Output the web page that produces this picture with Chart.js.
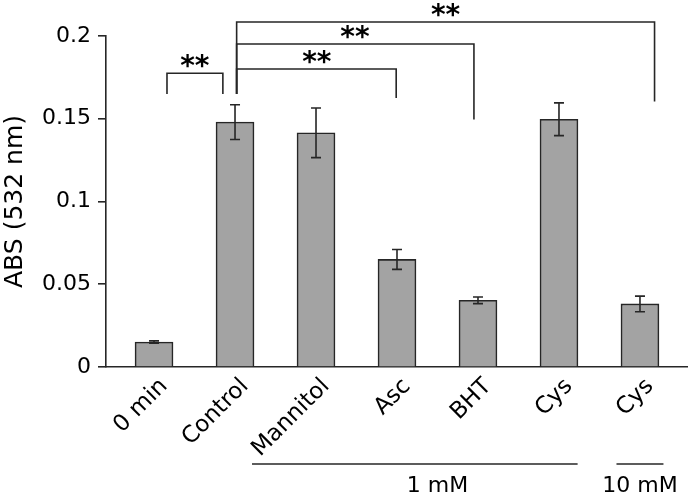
<!DOCTYPE html>
<html><head><meta charset="utf-8">
<script src="https://cdn.jsdelivr.net/npm/chart.js@4"></script>
<style>html,body{margin:0;padding:0;background:#fff;}</style>
</head><body>
<canvas id="c" width="688" height="494" style="display:block;width:688px;height:494px"></canvas>
<script>
// ---- data ----
const categories = ['0 min', 'Control', 'Mannitol', 'Asc', 'BHT', 'Cys', 'Cys'];
const means = [0.0151, 0.148, 0.1415, 0.065, 0.0403, 0.1497, 0.0381];
const errors = [0.0007, 0.0105, 0.015, 0.006, 0.002, 0.0099, 0.0047];
const yTicks = [0, 0.05, 0.1, 0.15, 0.2];
const yTickLabels = ['0', '0.05', '0.1', '0.15', '0.2'];
// significance brackets (x in category index units, y in ABS units)
const bracketFrom = [0.16, 1.02, 1.02, 1.02];
const bracketTo = [0.85, 2.99, 3.95, 6.18];
const bracketY = [0.1775, 0.1801, 0.1952, 0.2085];
const bracketLegFrom = [0.165, 0.165, 0.165, 0.165];
const bracketLegTo = [0.165, 0.1625, 0.1495, 0.1604];
const bracketLabels = ['**', '**', '**', '**'];
const bracketLabelX = [0.504, 2.01, 2.48, 3.6];
// concentration groups under the axis (x in category index units)
const groupLabels = ['1 mM', '10 mM'];
const groupFrom = [1.21, 5.71];
const groupTo = [5.23, 6.29];
const groupLabelX = [3.5, 6];

const FONT = 'DejaVu Sans';
const INK = '#262626';

const overlay = {
  id: 'overlay',
  afterDatasetsDraw(chart) {
    const { ctx, scales: { x, y }, chartArea } = chart;
    ctx.save();
    ctx.strokeStyle = INK;
    ctx.lineWidth = 1.6;
    // error bars
    means.forEach((m, i) => {
      const px = x.getPixelForValue(i);
      const t = y.getPixelForValue(m + errors[i]);
      const b = y.getPixelForValue(m - errors[i]);
      ctx.beginPath();
      ctx.moveTo(px, t); ctx.lineTo(px, b);
      ctx.moveTo(px - 5, t); ctx.lineTo(px + 5, t);
      ctx.moveTo(px - 5, b); ctx.lineTo(px + 5, b);
      ctx.stroke();
    });
    // brackets
    ctx.font = 'bold 28px "' + FONT + '"';
    ctx.fillStyle = '#000';
    ctx.textAlign = 'center';
    ctx.textBaseline = 'alphabetic';
    bracketFrom.forEach((f, i) => {
      const x1 = x.getPixelForValue(f), x2 = x.getPixelForValue(bracketTo[i]);
      const yl = y.getPixelForValue(bracketY[i]);
      const y1 = y.getPixelForValue(bracketLegFrom[i]);
      const y2 = y.getPixelForValue(bracketLegTo[i]);
      ctx.beginPath();
      ctx.moveTo(x1, y1); ctx.lineTo(x1, yl); ctx.lineTo(x2, yl); ctx.lineTo(x2, y2);
      ctx.stroke();
      const m = ctx.measureText(bracketLabels[i]);
      const cy = yl - 12;
      const base = cy + (m.actualBoundingBoxAscent - m.actualBoundingBoxDescent) / 2;
      ctx.fillText(bracketLabels[i], x.getPixelForValue(bracketLabelX[i]), base);
    });
    // concentration groups
    ctx.font = '22px "' + FONT + '"';
    const ly = chartArea.bottom + 97;
    groupLabels.forEach((g, i) => {
      ctx.beginPath();
      ctx.moveTo(x.getPixelForValue(groupFrom[i]), ly);
      ctx.lineTo(x.getPixelForValue(groupTo[i]), ly);
      ctx.stroke();
      ctx.fillText(g, x.getPixelForValue(groupLabelX[i]), chartArea.bottom + 125);
    });
    ctx.restore();
  }
};

new Chart(document.getElementById('c'), {
  type: 'bar',
  data: {
    datasets: [{
      data: means.map((v, i) => ({ x: i, y: v })),
      backgroundColor: '#a3a3a3',
      borderColor: INK,
      borderWidth: 1.6,
      barThickness: 38
    }]
  },
  options: {
    responsive: false,
    animation: false,
    layout: { padding: { top: 36, left: 0, right: 0, bottom: 0 } },
    plugins: { legend: { display: false }, tooltip: { enabled: false } },
    scales: {
      x: {
        type: 'linear',
        min: -0.593,
        max: 6.593,
        offset: false,
        grid: { display: false, drawTicks: false },
        border: { display: true, color: INK, width: 1.6 },
        afterBuildTicks: s => { s.ticks = categories.map((_, i) => ({ value: i })); },
        afterFit: s => { s.height = 127; s.paddingLeft = 0; s.paddingRight = 0; },
        ticks: {
          autoSkip: false, minRotation: 45, maxRotation: 45,
          labelOffset: 10, padding: 6, color: '#000',
          font: { family: FONT, size: 23 },
          callback: (v) => categories[Math.round(v)]
        }
      },
      y: {
        min: 0,
        max: 0.2,
        afterBuildTicks: s => { s.ticks = yTicks.map(v => ({ value: v })); },
        afterFit: s => { s.width = 106; },
        grid: { drawOnChartArea: false, drawTicks: true, tickLength: 8, color: INK, lineWidth: 1.6 },
        border: { display: true, color: INK, width: 1.6 },
        ticks: {
          padding: 7, color: '#000',
          font: { family: FONT, size: 22 },
          callback: (v) => yTickLabels[yTicks.findIndex(t => Math.abs(t - v) < 1e-9)]
        },
        title: { display: true, text: 'ABS (532 nm)', color: '#000', font: { family: FONT, size: 25 }, padding: 0 }
      }
    }
  },
  plugins: [overlay]
});
</script>
</body></html>
